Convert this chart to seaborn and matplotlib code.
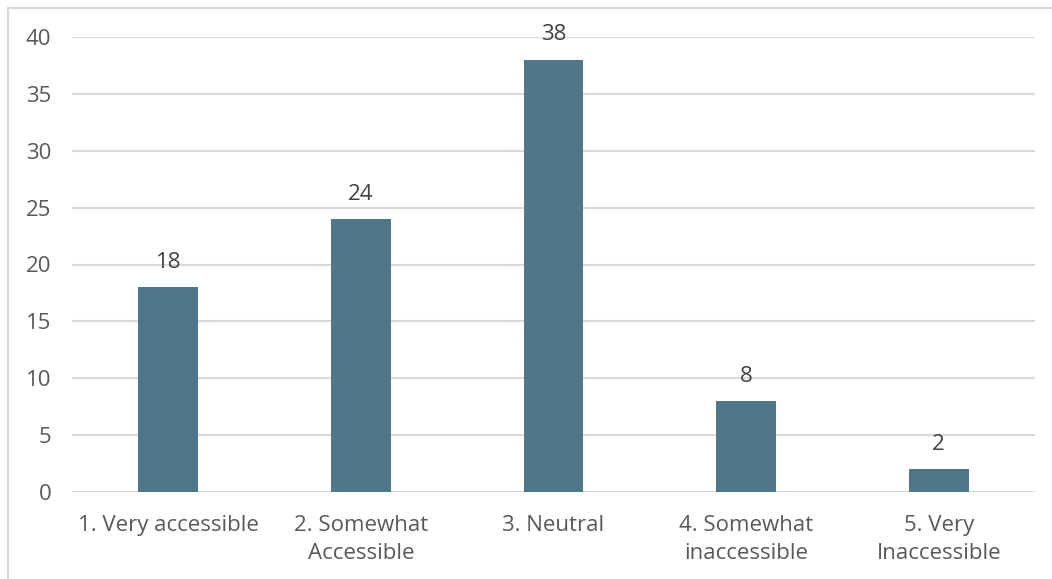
import matplotlib
matplotlib.use("Agg")
import matplotlib.pyplot as plt
import seaborn as sns
import pandas as pd

categories = ["1. Very accessible", "2. Somewhat\nAccessible", "3. Neutral",
              "4. Somewhat\ninaccessible", "5. Very\nInaccessible"]
counts = [18, 24, 38, 8, 2]
y_ticks = [0, 5, 10, 15, 20, 25, 30, 35, 40]

bar_color = "#4E7889"
text_color = "#595959"
grid_color = "#D9D9D9"

sns.set_theme(style="white")
plt.rcParams['font.family'] = ['Open Sans', 'DejaVu Sans']

df = pd.DataFrame({"category": categories, "count": counts})

fig = plt.figure(figsize=(10.52, 5.79), dpi=100)
ax = fig.add_axes([72 / 1052, 1 - 492 / 579, (1035 - 72) / 1052, (492 - 37) / 579])

sns.barplot(data=df, x="category", y="count", color=bar_color, width=0.31,
            saturation=1, linewidth=0, ax=ax, zorder=3)

ax.set_ylim(0, 40)
ax.set_yticks(y_ticks)
ax.yaxis.grid(True, color=grid_color, linewidth=1.5, zorder=0)
ax.set_axisbelow(True)
for s in ax.spines.values():
    s.set_visible(False)
ax.axhline(0, color=grid_color, linewidth=1.5, zorder=2)

ax.set_xlabel("")
ax.set_ylabel("")
ax.tick_params(axis="both", length=0, labelsize=16, colors=text_color)
ax.tick_params(axis="x", pad=16.5)
ax.tick_params(axis="y", pad=15)
for lbl in ax.get_xticklabels():
    lbl.set_linespacing(1.45)

for i, v in enumerate(counts):
    ax.annotate(str(v), (i, v), xytext=(0, 18), textcoords="offset points",
                ha="center", va="center", fontsize=16, color="#404040")

# outer chart border (left and top visible)
fig.add_artist(plt.Line2D([8 / 1052, 8 / 1052], [0, 1 - 8 / 579],
                          transform=fig.transFigure, color="#D9D9D9", linewidth=1.5))
fig.add_artist(plt.Line2D([8 / 1052, 1], [1 - 8 / 579, 1 - 8 / 579],
                          transform=fig.transFigure, color="#D9D9D9", linewidth=1.5))

fig.savefig("out.png", dpi=100)
